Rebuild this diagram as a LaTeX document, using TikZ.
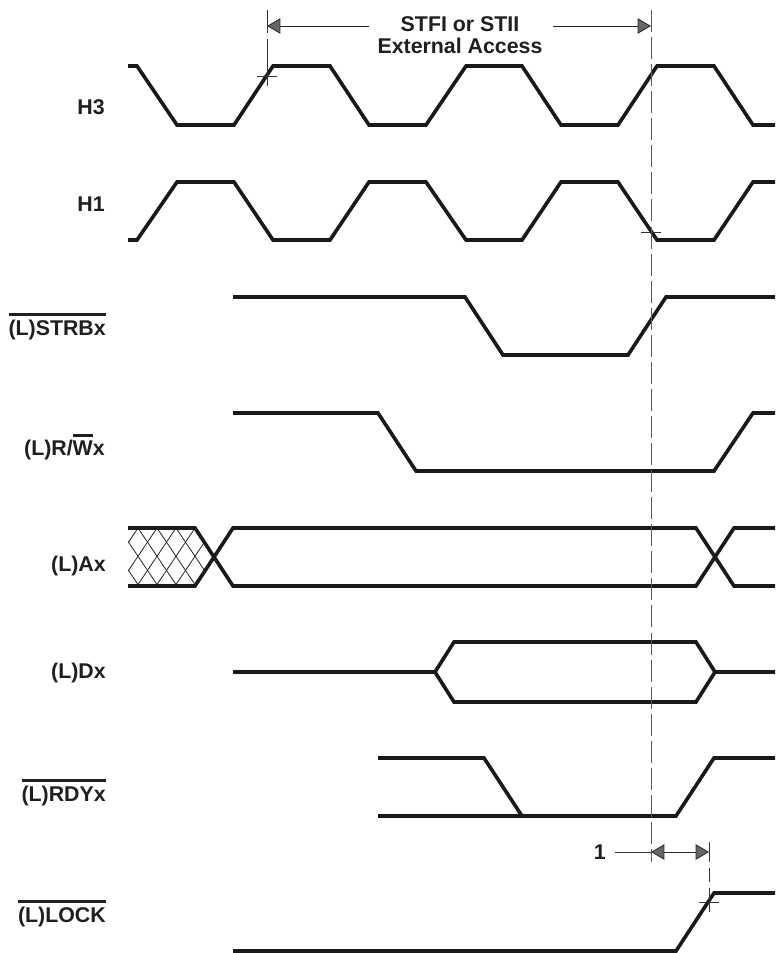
\documentclass[tikz,border=0pt]{standalone}
\usepackage{fontspec}
\setmainfont{Liberation Sans}
\usetikzlibrary{arrows.meta}
\newsavebox{\ovlbox}
\newcommand{\ovl}[1]{\sbox{\ovlbox}{#1}\leavevmode\rlap{\smash{\rule[14.4pt]{\wd\ovlbox}{2.2pt}}}\usebox{\ovlbox}}
\newcommand{\ovlw}[1]{\sbox{\ovlbox}{#1}\leavevmode\rlap{\hspace*{0.3pt}\smash{\rule[13.8pt]{\wd\ovlbox}{2.2pt}}}\usebox{\ovlbox}}
\tikzset{
  x=0.75pt,y=-0.75pt,
  wave/.style={line width=2.7pt,line join=miter,black!90},
  thin mark/.style={line width=0.6pt,black!80},
  vdash/.style={line width=0.75pt,black!65,dash pattern=on 16.5pt off 3.8pt},
  hatchline/.style={line width=0.6pt,black!85},
  dim/.style={line width=0.6pt,black!85,-{Triangle[length=10pt,width=11.5pt,fill=black!60]}},
  lab/.style={anchor=base east,inner sep=0pt,font=\bfseries\fontsize{16pt}{18pt}\selectfont,text=black!88},
  toplab/.style={anchor=center,inner sep=0pt,align=center,font=\bfseries\fontsize{16pt}{17pt}\selectfont,text=black!88}
}
\begin{document}
\begin{tikzpicture}
\useasboundingbox (0,0) rectangle (775,953);
% hatch
\begin{scope}
\clip (128,528) -- (195,528) -- (214,557) -- (195,586) -- (128,586) -- cycle;
\foreach \k in {-4,...,6}{
  \draw[hatchline] ({138+19*\k},528) -- ({138+19*\k+39},586);
  \draw[hatchline] ({138+19*\k},528) -- ({138+19*\k-39},586);
}
\end{scope}
% waves
\draw[wave] (128,66) -- (137,66) -- (177,125) -- (234,125) -- (273,66) -- (330,66) -- (369,125) -- (426,125) -- (466,66) -- (522,66) -- (561,125) -- (618,125) -- (657,66) -- (714,66) -- (753,125) -- (775,125);
\draw[wave] (128,240) -- (137,240) -- (177,182) -- (234,182) -- (273,240) -- (330,240) -- (369,182) -- (426,182) -- (466,240) -- (522,240) -- (561,182) -- (618,182) -- (657,240) -- (714,240) -- (753,182) -- (775,182);
\draw[wave] (233,297) -- (465,297) -- (503,355) -- (628,355) -- (666,297) -- (775,297);
\draw[wave] (233,413) -- (378,413) -- (416,471) -- (714,471) -- (753,413) -- (775,413);
\draw[wave] (128,528) -- (195,528) -- (233,586) -- (696,586) -- (734,528) -- (775,528);
\draw[wave] (128,586) -- (195,586) -- (233,528) -- (696,528) -- (734,586) -- (775,586);
\draw[wave] (233,672) -- (435,672) -- (454,642) -- (696,642) -- (715,672) -- (775,672);
\draw[wave] (435,672) -- (454,702) -- (696,702) -- (715,672);
\draw[wave] (378,758) -- (484,758) -- (522,816);
\draw[wave] (378,816) -- (676,816) -- (714,758) -- (775,758);
\draw[wave] (233,951) -- (676,951) -- (714,893) -- (775,893);
% reference lines
\coordinate (a1) at (267,26);
\coordinate (a2) at (651,26);
\coordinate (b1) at (651,852);
\coordinate (b2) at (709,852);
\draw[thin mark] (267,10) -- (267,33);
\draw[thin mark] (267,39) -- (267,86);
\draw[thin mark] (257,76) -- (277,76);
\draw[vdash] (651,10) -- (651,862);
\draw[thin mark] (641,232) -- (661,232);
\draw[thin mark] (709,842) -- (709,862);
\draw[thin mark] (709,868) -- (709,882);
\draw[thin mark] (709,888) -- (709,912);
\draw[thin mark] (699,902) -- (719,902);
% labels
\node[toplab] (title) at (460,35) {STFI or STII\\External Access};
\node[lab] (h3) at (105,114) {H3};
\node[lab] (h1) at (105,211) {H1};
\node[lab] (strb) at (106,335) {\ovl{(L)STRBx}};
\node[lab] (rw) at (105,455) {(L)R/\ovlw{W}x};
\node[lab] (ax) at (106,571) {(L)Ax};
\node[lab] (dx) at (106,678) {(L)Dx};
\node[lab] (rdy) at (106,801) {\ovl{(L)RDYx}};
\node[lab] (lock) at (106,922) {\ovl{(L)LOCK}};
\node[lab] (one) at (606,859) {1};
% dimensions
\coordinate (t1) at (369,26);
\coordinate (t2) at (553,26);
\coordinate (o1) at (615,852);
\coordinate (b3) at (680,852);
\draw[dim] (t1) -- (a1);
\draw[dim] (t2) -- (a2);
\draw[thin mark] (o1) -- (b1);
\draw[dim] (b3) -- (b1);
\draw[dim] (b3) -- (b2);
\end{tikzpicture}
\end{document}
